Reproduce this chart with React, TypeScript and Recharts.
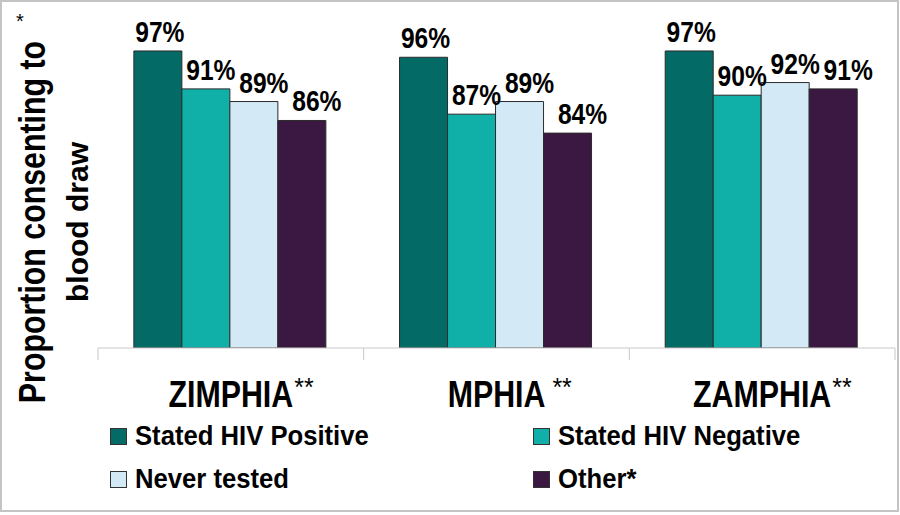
import React from 'react';
import { BarChart, Bar, XAxis, YAxis, Legend, LabelList } from 'recharts';

// survey categories and footnote marks shown after each name
const categories = ['ZIMPHIA', 'MPHIA', 'ZAMPHIA'];
const footMarks = ['**', ' **', '**'];

// proportion consenting to blood draw (%)
const statedPositive = [97, 96, 97];
const statedNegative = [91, 87, 90];
const neverTested = [89, 89, 92];
const other = [86, 84, 91];

const seriesNames = ['Stated HIV Positive', 'Stated HIV Negative', 'Never tested', 'Other*'];
const yDomain = [50, 100];

const COLORS = ['#036A65', '#10AFA7', '#D3E9F5', '#3B1841'];
// label nudges to the right, as in the source slide
const LABEL_DX = [2, 5, 10, 15];

// no Arial Narrow installed: squeeze Liberation Sans Bold instead
const SANS = "'Liberation Sans', Arial, sans-serif";
const NARROW = 0.82;

const data = categories.map((name, i) => ({
  name,
  s0: statedPositive[i],
  s1: statedNegative[i],
  s2: neverTested[i],
  s3: other[i],
}));

let ctx: CanvasRenderingContext2D | null = null;
const textWidth = (text: string, font: string) => {
  if (!ctx) ctx = document.createElement('canvas').getContext('2d');
  if (!ctx) return text.length * 20;
  ctx.font = font;
  return ctx.measureText(text).width;
};

function NText({ x, y, size, rotate = 0, sx = NARROW, anchor = 'middle', bold = true, children }: any) {
  const t = `translate(${x} ${y})${rotate ? ` rotate(${rotate})` : ''} scale(${sx} 1)`;
  return (
    <text transform={t} textAnchor={anchor} fontFamily={SANS} fontWeight={bold ? 'bold' : 'normal'} fontSize={size} fill="#000">
      {children}
    </text>
  );
}

function CategoryTick(props: any) {
  const { x, y, payload, index, width, visibleTicksCount } = props;
  const band = width / visibleTicksCount;
  const mark = footMarks[index] || '';
  const w = textWidth(payload.value, `bold 37px ${SANS}`) * NARROW;
  const lead = mark.startsWith(' ') ? 7 : 1;
  return (
    <g>
      <line x1={x - band / 2} x2={x - band / 2} y1={y} y2={y + 12} stroke="#c8c8c8" />
      {index === visibleTicksCount - 1 && (
        <line x1={x + band / 2} x2={x + band / 2} y1={y} y2={y + 12} stroke="#c8c8c8" />
      )}
      <NText x={x} y={y + 59} size={37}>{payload.value}</NText>
      <NText x={x + w / 2 + lead} y={y + 48} size={25} sx={1} anchor="start" bold={false}>{mark.trim()}</NText>
    </g>
  );
}

const valueLabel = (i: number) => (p: any) => {
  const { x, y, width, value } = p;
  return <NText x={x + width / 2 + LABEL_DX[i]} y={y - 9} size={30}>{value}%</NText>;
};

function LegendBox() {
  return (
    <div style={{ display: 'grid', gridTemplateColumns: '423px auto', paddingLeft: 110, width: 790 }}>
      {seriesNames.map((s, i) => (
        <div key={s} style={{ display: 'flex', alignItems: 'center', height: 43 }}>
          <span style={{ width: 15, height: 15, background: COLORS[i], border: '1px solid #333', display: 'inline-block' }} />
          <span style={{
            marginLeft: 8, fontFamily: SANS, fontWeight: 'bold', fontSize: 27, color: '#000', lineHeight: 1,
            display: 'inline-block', whiteSpace: 'nowrap', transform: 'scaleX(0.95)', transformOrigin: 'left center',
          }}>
            {s}
          </span>
        </div>
      ))}
    </div>
  );
}

export default function App() {
  return (
    <div style={{ position: 'absolute', left: 0, top: 0, width: 900, height: 515, background: '#fff' }}>
      <div style={{ position: 'absolute', left: 0, top: 0, width: 899, height: 512, border: '2px solid #c4c4c4', boxSizing: 'border-box' }} />
      <svg width={110} height={430} style={{ position: 'absolute', left: 0, top: 0 }}>
        <text x={16} y={28} fontFamily={SANS} fontSize={20} fill="#000">*</text>
        <NText x={45} y={222} rotate={-90} size={37}>Proportion consenting to</NText>
        <NText x={88} y={222} rotate={-90} size={30} sx={1}>blood draw</NText>
      </svg>
      <div style={{ position: 'absolute', left: 0, top: 0 }}>
        <BarChart width={900} height={515} data={data} margin={{ top: 32, right: 5, bottom: 107, left: 98 }}
          barCategoryGap="13.5%" barGap={0}>
          <XAxis dataKey="name" height={60} tickLine={false} tickSize={0} tickMargin={0}
            axisLine={{ stroke: '#c8c8c8' }} tick={(p: any) => <CategoryTick {...p} />} interval={0} />
          <YAxis hide domain={yDomain} allowDataOverflow />
          <Legend layout="horizontal" verticalAlign="middle" align="center"
            wrapperStyle={{ left: 0, top: 415, width: 900 }} content={() => <LegendBox />} />
          {['s0', 's1', 's2', 's3'].map((k, i) => (
            <Bar key={k} dataKey={k} name={seriesNames[i]} fill={COLORS[i]} stroke="#2b2b2b" strokeWidth={1} isAnimationActive={false}>
              <LabelList dataKey={k} content={valueLabel(i)} />
            </Bar>
          ))}
        </BarChart>
      </div>
    </div>
  );
}
